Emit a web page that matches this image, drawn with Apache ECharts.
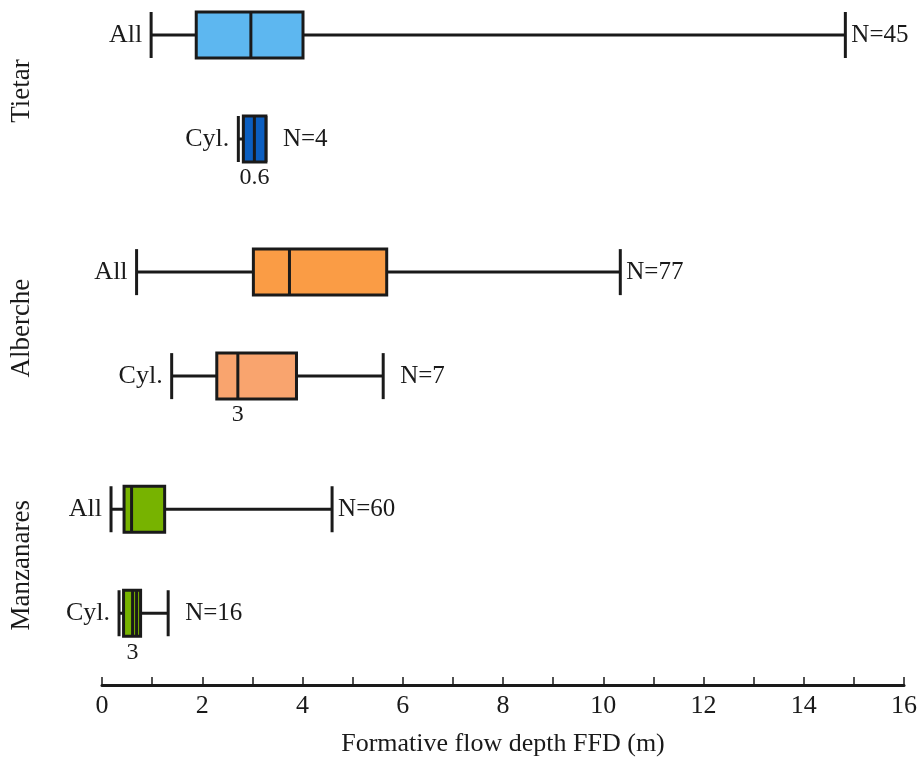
<!DOCTYPE html>
<html>
<head>
<meta charset="utf-8">
<script src="https://cdn.jsdelivr.net/npm/echarts@6/dist/echarts.min.js"></script>
<style>
  html, body { margin: 0; padding: 0; background: #fff; }
  #chart { width: 921px; height: 763px; }
</style>
</head>
<body>
<div id="chart"></div>
<script>
const groups = ['Tietar', 'Alberche', 'Manzanares'];
const rowLabels = ['All', 'Cyl.', 'All', 'Cyl.', 'All', 'Cyl.'];
const rowGroup = [0, 0, 1, 1, 2, 2];
const whiskerLow = [0.98, 2.72, 0.69, 1.39, 0.18, 0.34];
const q1 = [1.88, 2.82, 3.02, 2.29, 0.44, 0.43];
const median = [2.97, 3.04, 3.74, 2.71, 0.59, 0.61];
const q3 = [4.01, 3.27, 5.68, 3.88, 1.25, 0.77];
const whiskerHigh = [14.83, 3.27, 10.34, 5.61, 4.59, 1.32];
const extraLine = [null, null, null, null, null, 0.69];
const counts = [45, 4, 77, 7, 60, 16];
const notes = ['', '0.6', '', '3', '', '3'];

const boxColors = ['#5db7f0', '#0b5ec0', '#fa9c45', '#f9a46e', '#77b300', '#77b300'];
const INK = '#1a1a1a';
const FONT = 'Liberation Serif';
const BOX_H = 46;
const GROUP_STEP = 2.28;

const rowPos = rowGroup.map((g, i) => g * GROUP_STEP + (i % 2));

const boxData = rowLabels.map((lab, i) => [whiskerLow[i], q1[i], median[i], q3[i], whiskerHigh[i], rowPos[i]]);
const groupData = groups.map((g, gi) => [0, gi * GROUP_STEP + 0.5]);

const chart = echarts.init(document.getElementById('chart'));

function renderBox(params, api) {
  const i = params.dataIndex;
  const y = api.coord([0, api.value(5)])[1];
  const px = k => api.coord([api.value(k), 0])[0];
  const xLo = px(0), xQ1 = px(1), xMed = px(2), xQ3 = px(3), xHi = px(4);
  const h = BOX_H;
  const line = { stroke: INK, lineWidth: 3 };
  const children = [
    { type: 'line', shape: { x1: xLo, y1: y, x2: xQ1, y2: y }, style: line },
    { type: 'line', shape: { x1: xQ3, y1: y, x2: xHi, y2: y }, style: line },
    { type: 'line', shape: { x1: xLo, y1: y - h / 2, x2: xLo, y2: y + h / 2 }, style: line },
    { type: 'line', shape: { x1: xHi, y1: y - h / 2, x2: xHi, y2: y + h / 2 }, style: line },
    { type: 'rect', shape: { x: xQ1, y: y - h / 2, width: xQ3 - xQ1, height: h },
      style: { fill: boxColors[i], stroke: INK, lineWidth: 3 } },
    { type: 'line', shape: { x1: xMed, y1: y - h / 2, x2: xMed, y2: y + h / 2 }, style: line },
    { type: 'text', x: xLo - 9, y: y,
      style: { text: rowLabels[i], fill: INK, font: '26px "' + FONT + '"', align: 'right', verticalAlign: 'middle' } },
    { type: 'text', x: xHi + (i % 2 ? 17 : 6), y: y,
      style: { text: 'N=' + counts[i], fill: INK, font: '25px "' + FONT + '"', align: 'left', verticalAlign: 'middle' } }
  ];
  if (extraLine[i] != null) {
    const xe = api.coord([extraLine[i], 0])[0];
    children.push({ type: 'line', shape: { x1: xe, y1: y - h / 2, x2: xe, y2: y + h / 2 }, style: line });
  }
  if (notes[i]) {
    children.push({ type: 'text', x: xMed, y: y + h / 2 + 4,
      style: { text: notes[i], fill: INK, font: '24px "' + FONT + '"', align: 'center', verticalAlign: 'top' } });
  }
  return { type: 'group', children: children };
}

function renderGroup(params, api) {
  const y = api.coord([0, api.value(1)])[1];
  return {
    type: 'text', x: 22, y: y + 4, rotation: Math.PI / 2,
    style: { text: groups[params.dataIndex], fill: INK, font: '27px "' + FONT + '"', align: 'center', verticalAlign: 'middle' }
  };
}

const option = {
  animation: false,
  grid: { left: 102, right: 17, top: 9, bottom: 78 },
  xAxis: {
    type: 'value',
    min: 0,
    max: 16,
    interval: 2,
    name: 'Formative flow depth FFD (m)',
    nameLocation: 'middle',
    nameGap: 46,
    nameTextStyle: { fontFamily: FONT, fontSize: 26, color: INK },
    axisLine: { show: true, onZero: false, lineStyle: { color: INK, width: 3 } },
    axisTick: { show: true, inside: true, length: 8, lineStyle: { color: INK, width: 1.5 } },
    minorTick: { show: true, splitNumber: 2, length: 8, lineStyle: { color: INK, width: 1.5 } },
    splitLine: { show: false },
    axisLabel: { fontFamily: FONT, fontSize: 26, color: INK, margin: 8 }
  },
  yAxis: {
    type: 'value',
    inverse: true,
    min: -0.25,
    max: 6.25,
    show: false
  },
  series: [
    {
      type: 'custom',
      renderItem: renderBox,
      encode: { x: [0, 1, 2, 3, 4], y: 5 },
      data: boxData,
      clip: false
    },
    {
      type: 'custom',
      renderItem: renderGroup,
      encode: { x: 0, y: 1 },
      data: groupData,
      clip: false
    }
  ]
};

chart.setOption(option);
</script>
</body>
</html>
